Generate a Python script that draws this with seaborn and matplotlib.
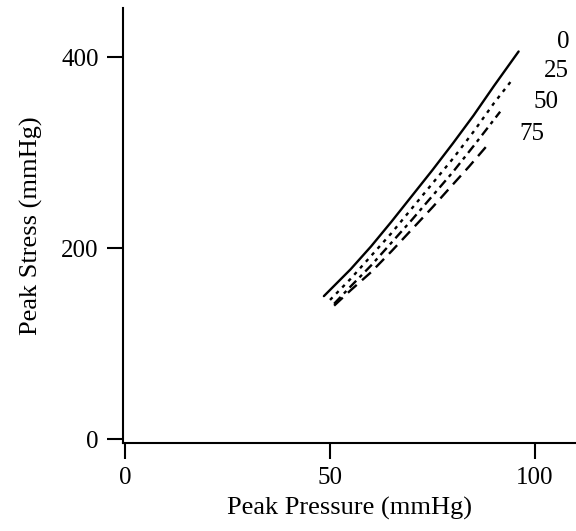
import matplotlib
matplotlib.use("Agg")
import matplotlib.pyplot as plt
import seaborn as sns
import pandas as pd

# ---- data ----
series_labels = ["0", "25", "50", "75"]
x_0 = [48.5, 55, 60, 65, 70, 75, 80, 85, 90, 96]
y_0 = [150, 178, 202, 228, 255, 282, 310, 339, 370, 406]
x_25 = [50, 55, 60, 65, 70, 75, 80, 85, 90, 94]
y_25 = [146, 168, 192, 216, 242, 268, 294, 322, 352, 374]
x_50 = [51, 55, 60, 65, 70, 75, 80, 85, 91.5]
y_50 = [142, 160, 182, 206, 230, 255, 280, 307, 343]
x_75 = [51, 55, 60, 65, 70, 75, 80, 84, 88]
y_75 = [140, 156, 175, 197, 220, 243, 267, 286, 306]
x_ticks = [0, 50, 100]
y_ticks = [0, 200, 400]
x_title = "Peak Pressure (mmHg)"
y_title = "Peak Stress (mmHg)"

sns.set_theme(style="ticks")
plt.rcParams["font.family"] = ["Liberation Serif", "DejaVu Serif"]

xs = [x_0, x_25, x_50, x_75]
ys = [y_0, y_25, y_50, y_75]
frames = []
for lab, xv, yv in zip(series_labels, xs, ys):
    frames.append(pd.DataFrame({"pressure": xv, "stress": yv, "series": lab}))
df = pd.concat(frames, ignore_index=True)

fig = plt.figure(figsize=(5.76, 5.31), dpi=100)
ax = fig.add_axes([123 / 576, 88 / 531, 453 / 576, 435 / 531])

styles = {
    "0": dict(linestyle="-", linewidth=1.7),
    "25": dict(linestyle=(0, (1.5, 2.2)), linewidth=1.7),
    "50": dict(linestyle=(0, (4, 2, 1.5, 2)), linewidth=1.7),
    "75": dict(linestyle=(0, (5, 3)), linewidth=1.7),
}
for lab in series_labels:
    sub = df[df["series"] == lab]
    sns.lineplot(data=sub, x="pressure", y="stress", ax=ax, color="black",
                 sort=False, estimator=None, legend=False, **styles[lab])

# curve labels at the right ends
label_pos = {"0": (106.8, 416), "25": (105.1, 386), "50": (102.7, 353), "75": (99.3, 320)}
for lab in series_labels:
    lx, ly = label_pos[lab]
    ax.text(lx, ly, lab, fontsize=18, ha="center", va="center", color="black")

ax.set_xlim(-0.5, 110)
ax.set_ylim(-3.7, 451.5)
ax.set_xticks(x_ticks)
ax.set_yticks(y_ticks)
ax.set_xticklabels([str(t) for t in x_ticks])
ax.set_yticklabels([str(t) for t in y_ticks])
ax.tick_params(axis="both", direction="out", length=11.5, width=1.5,
               labelsize=18, colors="black", pad=6)
for side in ["top", "right"]:
    ax.spines[side].set_visible(False)
for side in ["left", "bottom"]:
    ax.spines[side].set_linewidth(1.5)
    ax.spines[side].set_color("black")

ax.set_xlabel(x_title, fontsize=19, color="black")
ax.set_ylabel(y_title, fontsize=19, color="black")
ax.xaxis.set_label_coords(0.5, -0.125)
ax.yaxis.set_label_coords(-0.177, 0.5)
ax.grid(False)

fig.savefig("out.png", dpi=100, facecolor="white")
